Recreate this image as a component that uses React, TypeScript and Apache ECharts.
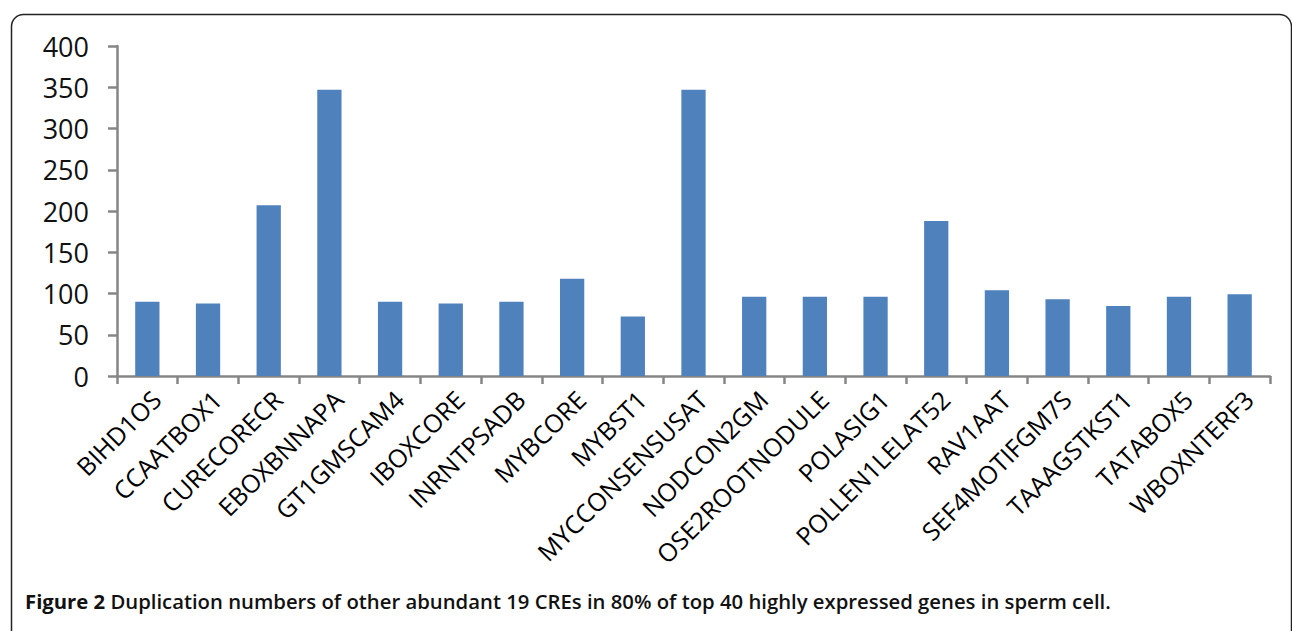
import React, { useEffect, useRef } from "react";
import * as echarts from "echarts";

const categories = [
  "BIHD1OS", "CCAATBOX1", "CURECORECR", "EBOXBNNAPA", "GT1GMSCAM4", "IBOXCORE",
  "INRNTPSADB", "MYBCORE", "MYBST1", "MYCCONSENSUSAT", "NODCON2GM", "OSE2ROOTNODULE",
  "POLASIG1", "POLLEN1LELAT52", "RAV1AAT", "SEF4MOTIFGM7S", "TAAAGSTKST1", "TATABOX5", "WBOXNTERF3",
];
const values = [90, 88, 207, 347, 90, 88, 90, 118, 72, 347, 96, 96, 96, 188, 104, 93, 85, 96, 99];
const yMin = 0;
const yMax = 400;
const yInterval = 50;
const captionBold = "Figure 2";
const captionText = " Duplication numbers of other abundant 19 CREs in 80% of top 40 highly expressed genes in sperm cell.";

export default function App() {
  const ref = useRef<HTMLDivElement>(null);
  useEffect(() => {
    document.body.style.margin = "0";
    const chart = echarts.init(ref.current!, null, { renderer: "svg" });
    chart.setOption({
      animation: false,
      backgroundColor: "#ffffff",
      textStyle: { fontFamily: "Open Sans" },
      grid: { left: 117, right: 22, top: 46, bottom: 255, containLabel: false },
      xAxis: {
        type: "category",
        data: categories,
        axisLine: { lineStyle: { color: "#868686", width: 2.5 } },
        axisTick: { show: true, length: 8, lineStyle: { color: "#868686", width: 2.5 } },
        axisLabel: {
          rotate: 45,
          interval: 0,
          margin: 10,
          color: "#000",
          fontSize: 25,
          verticalAlign: "top",
          fontFamily: "Open Sans",
        },
      },
      yAxis: {
        type: "value",
        min: yMin,
        max: yMax,
        interval: yInterval,
        splitLine: { show: false },
        axisLine: { show: true, lineStyle: { color: "#868686", width: 2.5 } },
        axisTick: { show: true, length: 9, lineStyle: { color: "#868686", width: 2.5 } },
        axisLabel: { color: "#111", fontSize: 27, margin: 28, fontFamily: "Open Sans" },
      },
      series: [
        {
          type: "bar",
          data: values,
          barWidth: "40%",
          itemStyle: { color: "#4f81bd" },
        },
      ],
      graphic: [
        {
          type: "rect",
          left: 9,
          top: 12,
          shape: { width: 1280, height: 640, r: 12 },
          style: { fill: "none", stroke: "#222", lineWidth: 1.5 },
          silent: true,
        },
        {
          type: "text",
          left: 25,
          top: 591,
          style: {
            text: "{b|" + captionBold + "}{n|" + captionText + "}",
            rich: {
              b: { fontFamily: "Open Sans", fontWeight: "bold", fontSize: 20.3, fill: "#111" },
              n: { fontFamily: "Open Sans", fontWeight: 600, fontSize: 20.3, fill: "#111" },
            },
          },
        },
      ],
    });
    return () => chart.dispose();
  }, []);
  return <div ref={ref} style={{ position: "absolute", left: 0, top: 0, width: 1292, height: 631 }} />;
}
